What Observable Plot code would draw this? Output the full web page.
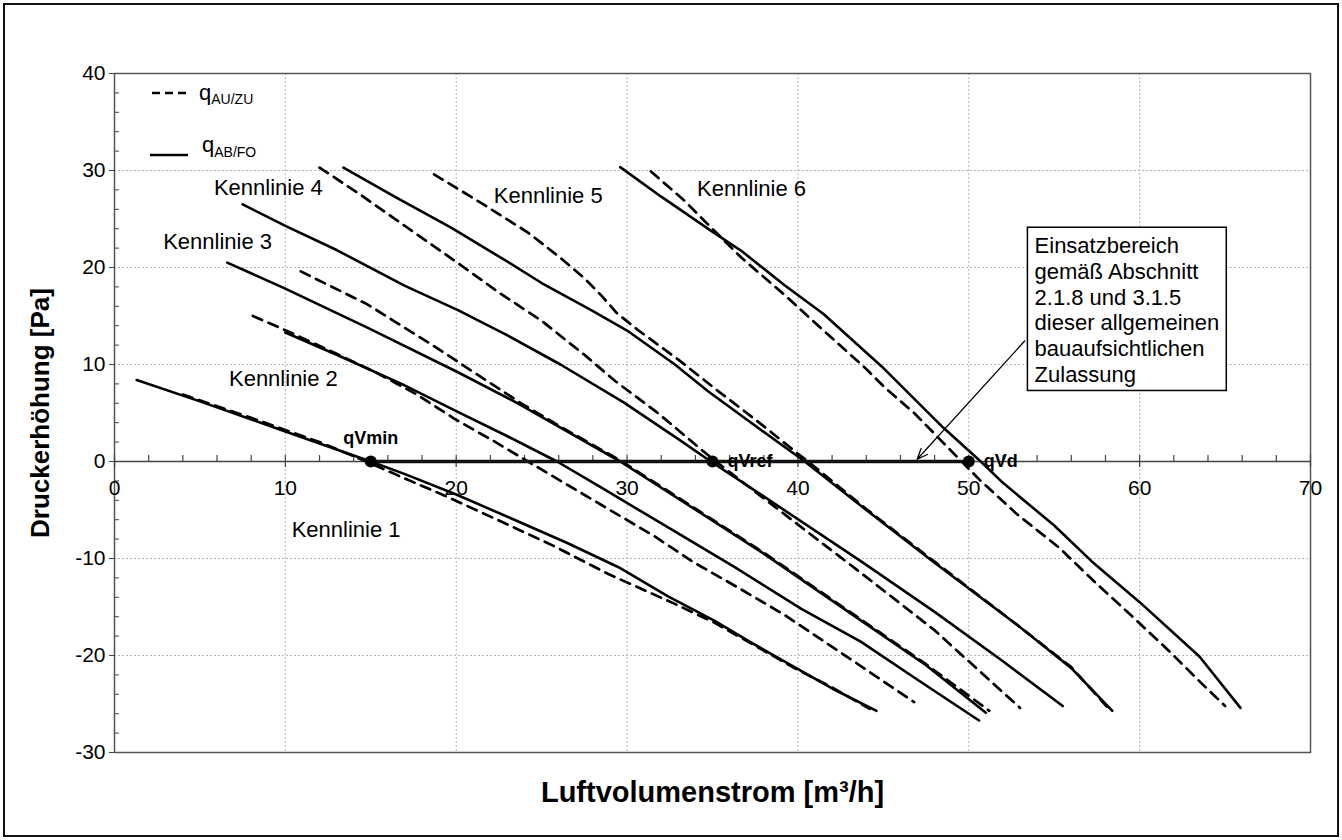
<!DOCTYPE html>
<html>
<head>
<meta charset="utf-8">
<script src="https://cdn.jsdelivr.net/npm/d3@7"></script>
<script src="https://cdn.jsdelivr.net/npm/@observablehq/plot@0.6"></script>
<style>
  body { margin: 0; background: #fff; }
  #wrap { position: relative; width: 1342px; height: 840px; overflow: hidden; background: #fff; }
  #border { position: absolute; left: 3px; top: 3px; right: 3px; bottom: 3px; border: 2px solid #111; pointer-events: none; }
  #legend { position: absolute; left: 0; top: 0; pointer-events: none; }
  #wrap svg { font-family: "Liberation Sans", Arial, sans-serif; }
</style>
</head>
<body>
<div id="wrap"><div id="border"></div></div>
<script>
// ---------- axis ticks ----------
const xTicks = [0, 10, 20, 30, 40, 50, 60, 70];
const yTicks = [-30, -20, -10, 0, 10, 20, 30, 40];
const xGrid = [10, 20, 30, 40, 50, 60];
const yGrid = [-20, -10, 10, 20, 30];
const xMinorTicks = [2,4,6,8,12,14,16,18,22,24,26,28,32,34,36,38,42,44,46,48,52,54,56,58,62,64,66,68];
const yMinorTicks = [-28,-26,-24,-22,-18,-16,-14,-12,-8,-6,-4,-2,2,4,6,8,12,14,16,18,22,24,26,28,32,34,36,38];

// ---------- series: [Luftvolumenstrom m³/h, Druckerhöhung Pa] ----------
const k1_ABFO = [[1.3,8.4],[5,6.2],[10,3.1],[15,0],[17,-1.3],[20,-3.4],[23,-5.7],[26.5,-8.4],[29.5,-10.9],[32.4,-13.9],[35.1,-16.4],[37.3,-18.7],[39.8,-21.2],[42,-23.4],[44.6,-25.7]];
const k1_AUZU = [[4,6.9],[8,4.5],[12,2.0],[14.6,0.1],[16.8,-1.6],[19.3,-3.5],[22.4,-6.0],[25.7,-8.7],[28.9,-11.6],[32.7,-14.6],[35.1,-16.6],[37.3,-18.8],[39.8,-21.3],[42,-23.3],[44.2,-25.5]];
const k2_ABFO = [[10.0,13.3],[13,11.0],[16.8,8.0],[20,5.2],[23,2.6],[25.9,0],[28.5,-2.7],[32.4,-6.8],[36.3,-10.9],[40.2,-15.2],[43.7,-18.6],[47,-22.5],[50.6,-26.7]];
const k2_AUZU = [[8.1,15.0],[10.3,13.3],[13,11.1],[15.5,9.0],[17.7,6.9],[19.9,4.4],[22.2,2.1],[24.2,0],[26.5,-2.4],[28.9,-4.9],[31.6,-7.7],[33.9,-10.4],[36.5,-13.0],[39.2,-15.8],[41.4,-18.4],[43.1,-20.4],[46.8,-24.8]];
const k3_ABFO = [[6.6,20.5],[9.9,17.9],[14.8,13.8],[20.1,9.2],[23.5,6.1],[26.1,3.5],[29.6,0],[34.3,-5.3],[38,-9.5],[43.7,-16.4],[47.5,-21.0],[51.0,-25.9]];
const k3_AUZU = [[10.9,19.6],[14.8,16.2],[18.7,11.9],[21.2,9.0],[23.8,6.0],[26.1,3.6],[29.7,0],[34.3,-5.2],[38,-9.4],[43.7,-16.3],[47.5,-20.9],[51.2,-25.7]];
const k4_ABFO = [[7.5,26.5],[10,24.3],[13,21.8],[17,18.1],[20.1,15.6],[23,13.0],[26.1,10.0],[29.8,6.1],[33,2.3],[34.9,0],[38,-3.6],[43.7,-10.3],[48,-15.5],[52,-20.6],[55.5,-25.2]];
const k4_AUZU = [[12.0,30.3],[14.4,27.5],[17.15,24.1],[19.9,20.7],[22.6,17.3],[25,14.5],[27.5,11.0],[29.3,8.3],[31.8,5.0],[34.5,1.0],[35.2,0],[38,-3.8],[43.7,-11.5],[48,-17.4],[53.0,-25.4]];
const k5_ABFO = [[13.4,30.3],[16.5,27.2],[19.7,24.1],[23,20.6],[25,18.4],[27.9,15.6],[30,13.5],[32.8,10.0],[34.7,7.3],[37.1,4.2],[40.4,0],[44,-5],[47.9,-10.3],[52.8,-16.8],[56,-21.3],[58.4,-25.7]];
const k5_AUZU = [[18.7,29.6],[21.6,26.5],[24.2,23.6],[26.1,21.0],[27.5,18.9],[28.5,17.1],[29.4,15.3],[30.6,13.6],[33.0,10.5],[35.3,7.3],[37.6,4.2],[40.0,0.8],[40.6,0],[44,-4.9],[47.9,-10.2],[52.8,-16.8],[56,-21.2],[58.2,-25.5]];
const k6_ABFO = [[29.6,30.35],[32,27.3],[34.9,23.8],[36.7,21.7],[39.2,18.2],[41.5,15.2],[44.9,9.8],[48.5,3.5],[50.7,0],[52,-2.2],[55,-6.6],[57.2,-10.3],[60,-14.5],[63.5,-20.1],[65.9,-25.4]];
const k6_AUZU = [[31.4,29.9],[33.35,26.9],[34.7,24.5],[36.7,21.0],[39.2,17.2],[41.0,14.3],[43.9,9.7],[45.1,7.6],[46.8,5.0],[48.8,1.4],[50.7,-2.0],[52.8,-5.4],[55.3,-8.9],[57.3,-12.3],[59.4,-15.7],[61.7,-19.5],[63.7,-23.0],[65.0,-25.2]];

// ---------- operating points ----------
const markerNames = ["qVmin", "qVref", "qVd"];
const markerX = [15, 35, 50];

// ---------- labels ----------
const curveNames = ["Kennlinie 1", "Kennlinie 2", "Kennlinie 3", "Kennlinie 4", "Kennlinie 5", "Kennlinie 6"];
const curveLabelX = [10.37, 6.7, 2.85, 5.82, 22.2, 34.1];
const curveLabelY = [-7.1, 8.47, 22.6, 28.2, 27.4, 28.06];

const noteText = "Einsatzbereich\ngemäß Abschnitt\n2.1.8 und 3.1.5\ndieser allgemeinen\nbauaufsichtlichen\nZulassung";
const noteBox = {x1: 53.46, x2: 65.1, y1: 7.27, y2: 24.1, tx: 53.85, ty: 15.7};
const noteArrow = {x1: 53.27, y1: 12.42, x2: 46.98, y2: 0.23};

const xTitle = "Luftvolumenstrom [m³/h]";
const yTitle = "Druckerhöhung [Pa]";

// ---------- build tables ----------
const seriesDefs = [
  ["Kennlinie 1", "AB/FO", k1_ABFO], ["Kennlinie 1", "AU/ZU", k1_AUZU],
  ["Kennlinie 2", "AB/FO", k2_ABFO], ["Kennlinie 2", "AU/ZU", k2_AUZU],
  ["Kennlinie 3", "AB/FO", k3_ABFO], ["Kennlinie 3", "AU/ZU", k3_AUZU],
  ["Kennlinie 4", "AB/FO", k4_ABFO], ["Kennlinie 4", "AU/ZU", k4_AUZU],
  ["Kennlinie 5", "AB/FO", k5_ABFO], ["Kennlinie 5", "AU/ZU", k5_AUZU],
  ["Kennlinie 6", "AB/FO", k6_ABFO], ["Kennlinie 6", "AU/ZU", k6_AUZU]
];
const rows = seriesDefs.flatMap(([k, type, pts]) => pts.map(([x, y]) => ({k, type, x, y})));
const solidRows = rows.filter(d => d.type === "AB/FO");
const dashedRows = rows.filter(d => d.type === "AU/ZU");
const markers = markerNames.map((name, i) => ({name, x: markerX[i], y: 0}));
const curveLabels = curveNames.map((name, i) => ({name, x: curveLabelX[i], y: curveLabelY[i]}));

const chart = Plot.plot({
  width: 1342,
  height: 840,
  marginLeft: 114,
  marginRight: 32,
  marginTop: 73,
  marginBottom: 88,
  style: {fontFamily: "'Liberation Sans', Arial, sans-serif", fontSize: "21px", color: "#000", background: "transparent"},
  x: {domain: [0, 70], axis: null},
  y: {domain: [-30, 40], label: null},
  marks: [
    Plot.gridX(xGrid, {stroke: "#b5b5b5", strokeOpacity: 1, strokeDasharray: "2,2"}),
    Plot.gridY(yGrid, {stroke: "#b5b5b5", strokeOpacity: 1, strokeDasharray: "2,2"}),
    Plot.frame({stroke: "#555", strokeWidth: 1.5}),
    Plot.axisY(yTicks, {anchor: "left", tickSize: 5, tickPadding: 4, fontSize: 21, label: null, stroke: "#444", tickFormat: d => String(d)}),
    Plot.axisY(yMinorTicks, {anchor: "left", tickSize: 5, dx: 5, tickFormat: () => "", label: null, stroke: "#444"}),
    // x axis crossing at y = 0
    Plot.ruleY([0], {stroke: "#444", strokeWidth: 1.3}),
    Plot.ruleX(xMinorTicks, {x: d => d, y1: 0, y2: 0.62, stroke: "#444", strokeWidth: 1.2}),
    Plot.ruleX(xTicks, {x: d => d, y1: -0.62, y2: 0.62, stroke: "#444", strokeWidth: 1.2}),
    Plot.text(xTicks, {x: d => d, y: 0, dy: 27, text: d => String(d), fontSize: 21, fill: "#000"}),
    // characteristic curves
    Plot.line(dashedRows, {x: "x", y: "y", z: "k", stroke: "#000", strokeWidth: 2.7, strokeDasharray: "10,7"}),
    Plot.line(solidRows, {x: "x", y: "y", z: "k", stroke: "#000", strokeWidth: 2.6}),
    // operating range
    Plot.ruleY([0], {x1: markerX[0], x2: markerX[2], stroke: "#111", strokeWidth: 3.5}),
    Plot.dot(markers, {x: "x", y: "y", r: 6, fill: "#000", stroke: "none"}),
    Plot.text(markers.filter(d => d.name === "qVmin"), {x: "x", y: "y", text: "name", dy: -23, fontWeight: "bold", fontSize: 18, fill: "#000"}),
    Plot.text(markers.filter(d => d.name !== "qVmin"), {x: "x", y: "y", text: "name", dx: 15, textAnchor: "start", fontWeight: "bold", fontSize: 18, fill: "#000"}),
    // curve labels
    Plot.text(curveLabels, {x: "x", y: "y", text: "name", textAnchor: "start", fontSize: 22, fill: "#000"}),
    // note with arrow
    Plot.rect([noteBox], {x1: "x1", x2: "x2", y1: "y1", y2: "y2", fill: "#fff", stroke: "#000", strokeWidth: 1.5}),
    Plot.text([noteBox], {x: "tx", y: "ty", text: () => noteText, textAnchor: "start", lineHeight: 1.18, fontSize: 22, fill: "#000"}),
    Plot.arrow([noteArrow], {x1: "x1", y1: "y1", x2: "x2", y2: "y2", stroke: "#000", strokeWidth: 1.3, headLength: 13, headAngle: 45}),
    // axis titles
    Plot.text([yTitle], {frameAnchor: "left", dx: -74, rotate: -90, textAnchor: "middle", lineAnchor: "middle", text: d => d, fontWeight: "bold", fontSize: 26, fill: "#000"}),
    Plot.text([xTitle], {frameAnchor: "bottom", dy: 40, textAnchor: "middle", lineAnchor: "middle", text: d => d, fontWeight: "bold", fontSize: 29, fill: "#000"})
  ]
});

const wrap = document.getElementById("wrap");
wrap.insertBefore(chart, wrap.firstChild);

// ---------- legend (inside plot area, top-left) ----------
const legendItems = [
  {base: "q", sub: "AU/ZU", dash: "8,5", lineY: 93, textBase: 100, subBase: 104, lineX1: 152, lineX2: 188, textX: 199},
  {base: "q", sub: "AB/FO", dash: null, lineY: 155, textBase: 152, subBase: 157, lineX1: 150, lineX2: 188, textX: 202}
];
const lg = d3.select(wrap).append("svg").attr("id", "legend").attr("width", 1342).attr("height", 840)
  .style("font-family", "'Liberation Sans', Arial, sans-serif");
for (const it of legendItems) {
  lg.append("line").attr("x1", it.lineX1).attr("x2", it.lineX2).attr("y1", it.lineY).attr("y2", it.lineY)
    .attr("stroke", "#000").attr("stroke-width", 2.6).attr("stroke-dasharray", it.dash);
  const t = lg.append("text").attr("x", it.textX).attr("y", it.textBase).attr("font-size", 22).attr("fill", "#000");
  t.append("tspan").text(it.base);
  t.append("tspan").attr("font-size", 14).attr("dy", it.subBase - it.textBase).text(it.sub);
}
</script>
</body>
</html>
